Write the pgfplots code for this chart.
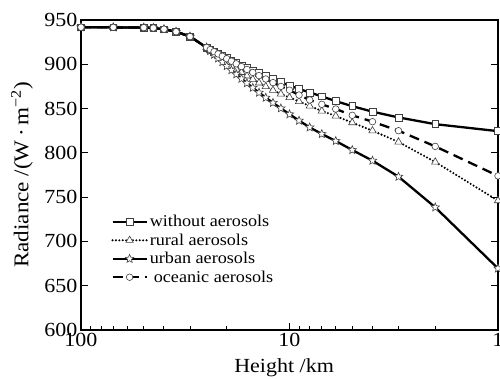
\documentclass[border=0pt]{standalone}
\usepackage{fontspec}
\setmainfont[FakeStretch=1.1]{Liberation Serif}
\usepackage{pgfplots}
\usepackage{pgfplotstable}
\pgfplotsset{compat=1.18}

\pgfdeclareplotmark{ostar}{%
  \pgfpathmoveto{\pgfpointpolar{90}{\pgfplotmarksize}}%
  \pgfpathlineto{\pgfpointpolar{126}{0.45\pgfplotmarksize}}%
  \pgfpathlineto{\pgfpointpolar{162}{\pgfplotmarksize}}%
  \pgfpathlineto{\pgfpointpolar{198}{0.45\pgfplotmarksize}}%
  \pgfpathlineto{\pgfpointpolar{234}{\pgfplotmarksize}}%
  \pgfpathlineto{\pgfpointpolar{270}{0.45\pgfplotmarksize}}%
  \pgfpathlineto{\pgfpointpolar{306}{\pgfplotmarksize}}%
  \pgfpathlineto{\pgfpointpolar{342}{0.45\pgfplotmarksize}}%
  \pgfpathlineto{\pgfpointpolar{18}{\pgfplotmarksize}}%
  \pgfpathlineto{\pgfpointpolar{54}{0.45\pgfplotmarksize}}%
  \pgfpathclose
  \pgfusepathqfillstroke
}

\pgfplotstableread{
h v
100 941.8
70 941.7
50 941.4
45 941.0
40 939.6
35 936.8
30 931.3
25 919.0
24 916.8
23 914.4
22 912.0
21 909.6
20 907.0
19 904.4
18 901.7
17 898.9
16 896.1
15 893.1
14 890.0
13 886.7
12 883.3
11 879.8
10 875.9
9 872.2
8 868.2
7 863.8
6 858.4
5 852.7
4 846.5
3 840.0
2 832.4
1 824.5
}\without

\pgfplotstableread{
h v
100 941.8
70 941.7
50 941.4
45 941.0
40 939.6
35 936.8
30 931.3
25 919.0
24 915.7
23 912.4
22 909.0
21 905.5
20 901.9
19 898.3
18 894.6
17 890.8
16 886.9
15 883.0
14 879.0
13 874.9
12 870.7
11 866.5
10 862.5
9 858.0
8 852.9
7 847.3
6 841.6
5 834.1
4 825.0
3 812.3
2 789.7
1 746.0
}\rural

\pgfplotstableread{
h v
100 941.8
70 941.7
50 941.4
45 941.0
40 939.6
35 936.8
30 931.3
25 919.0
24 915.0
23 910.9
22 906.7
21 902.4
20 898.0
19 893.4
18 888.7
17 883.8
16 878.7
15 873.5
14 868.0
13 862.3
12 856.5
11 850.3
10 843.6
9 836.4
8 828.8
7 821.3
6 813.4
5 803.2
4 791.2
3 773.1
2 738.5
1 669.5
}\urban

\pgfplotstableread{
h v
100 941.8
70 941.7
50 941.4
45 941.0
40 939.6
35 936.8
30 931.3
25 919.0
24 916.6
23 914.2
22 911.7
21 909.1
20 906.3
19 903.5
18 900.5
17 897.4
16 894.2
15 890.8
14 887.2
13 883.4
12 879.3
11 875.0
10 870.8
9 865.3
8 859.7
7 854.8
6 849.5
5 842.4
4 835.2
3 825.0
2 807.3
1 774.0
}\oceanic

\begin{document}
\begin{tikzpicture}
\begin{axis}[
  scale only axis,
  width=417pt, height=310pt,
  xmode=log, x dir=reverse,
  xmin=1, xmax=100,
  ymin=600, ymax=950,
  ytick={600,650,...,950},
  xtick={1,10,100}, xticklabels={1,10,100},
  minor xtick={2,3,4,5,6,7,8,9,20,30,40,50,60,70,80,90},
  xtick pos=left,
  tick align=inside,
  major tick length=7pt, minor tick length=4pt,
  every tick/.style={black, line width=1pt},
  axis line style={line width=1.5pt},
  /pgf/number format/assume math mode=true,
  ticklabel style={font=\fontsize{20}{22}\selectfont},
  label style={font=\fontsize{20}{22}\selectfont},
  xlabel={Height /km},
  ylabel={Radiance /(W\,·\,m\textsuperscript{−2})},
  xlabel style={at={(axis description cs:0.487,-0.123)}, anchor=center},
  ylabel style={at={(axis description cs:-0.1415,0.5)}, anchor=center, font=\fontsize{21}{23}\selectfont},
  legend cell align=left,
  legend style={at={(rel axis cs:0.07,0.38)}, anchor=north west, draw=none, fill=none,
    font=\fontsize{16.5}{18}\selectfont, row sep=1.5pt, inner sep=1pt},
  legend image code/.code={\draw[mark repeat=2,mark phase=2,#1] plot coordinates {(0cm,0cm) (0.6cm,0cm) (1.2cm,0cm)};},
]
\addplot[black, line width=2.3pt, mark=square*, mark size=3.4pt, mark options={solid, fill=white, line width=0.6pt, draw=black!75}] table[x=h,y=v] {\without};
\addlegendentry{without aerosols}
\addplot[black, line width=2.3pt, line cap=round, dash pattern=on 0pt off 3.4pt, mark=triangle*, mark size=4.2pt, mark options={solid, fill=white, line width=0.6pt, draw=black!75}] table[x=h,y=v] {\rural};
\addlegendentry{rural aerosols}
\addplot[black, line width=2.3pt, mark=ostar, mark size=4.4pt, mark options={solid, fill=white, line width=0.6pt, draw=black!75}] table[x=h,y=v] {\urban};
\addlegendentry{urban aerosols}
\addplot[black, line width=2.3pt, dash pattern=on 10pt off 6pt, mark=*, mark size=3.3pt, mark options={solid, fill=white, line width=0.6pt, draw=black!75}] table[x=h,y=v] {\oceanic};
\addlegendentry{\hspace{4pt}oceanic aerosols}
\end{axis}
\pgfresetboundingbox
\path ([shift={(-81pt,-48pt)}]current axis.south west) rectangle ++(500pt,378pt);
\end{tikzpicture}
\end{document}
